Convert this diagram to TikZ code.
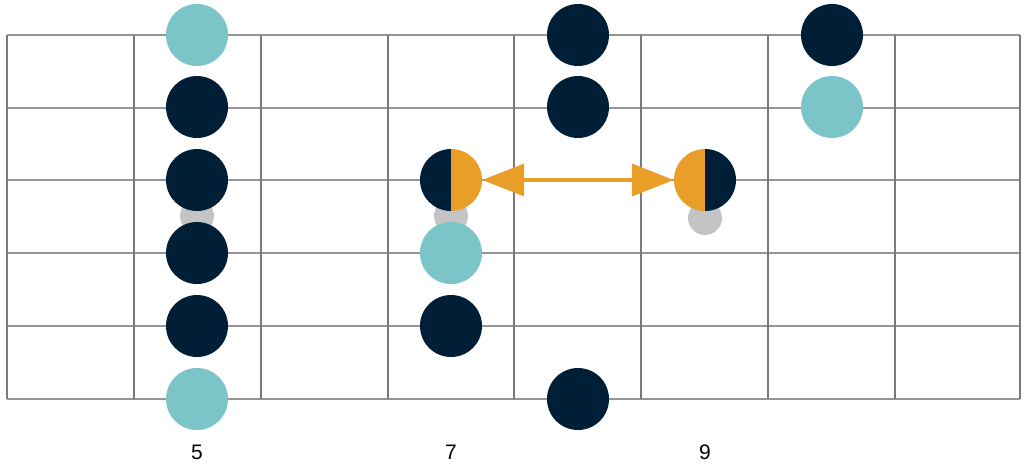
\documentclass[tikz,border=0pt]{standalone}
\usepackage{fontspec}
\setmainfont{Liberation Sans}
\usetikzlibrary{arrows.meta}
\definecolor{dk}{HTML}{001F36}
\definecolor{tl}{HTML}{7BC5C9}
\definecolor{og}{HTML}{E99E27}
\definecolor{gr}{HTML}{C4C4C4}
\definecolor{ln}{HTML}{7A7A7A}
\begin{document}
\begin{tikzpicture}[x=1pt,y=-1pt,
  dot/.style={circle,minimum size=62pt,inner sep=0pt},
  dkdot/.style={dot,fill=dk},
  tldot/.style={dot,fill=tl},
  ghost/.style={circle,fill=gr,minimum size=34pt,inner sep=0pt},
  fret/.style={draw=ln,line width=2.6pt},
  str/.style={draw=ln!80,line width=1.6pt},
  lab/.style={font=\fontsize{21}{21}\selectfont}]
\useasboundingbox (0,0) rectangle (1024,466);
\foreach \y in {35,108,180,253,326,399} \draw[str] (7,\y) -- (1020,\y);
\foreach \x in {7,134,261,388,514,641,768,895,1020} \draw[fret] (\x,35) -- (\x,399);
\node[ghost] (g1) at (197,216) {};
\node[ghost] (g2) at (451,216) {};
\node[ghost] (g3) at (705,218) {};
\node[tldot] (a1) at (197,35) {};
\node[dkdot] (a2) at (197,107) {};
\node[dkdot] (a3) at (197,180) {};
\node[dkdot] (a4) at (197,253) {};
\node[dkdot] (a5) at (197,326) {};
\node[tldot] (a6) at (197,399) {};
\node[dot] (h1) at (451,180) {};
\fill[dk] (451,149) arc[start angle=-90,end angle=-270,radius=31] -- cycle;
\fill[og] (451,149) arc[start angle=-90,end angle=90,radius=31] -- cycle;
\node[tldot] (b2) at (451,253) {};
\node[dkdot] (b3) at (451,326) {};
\node[dkdot] (c1) at (578,35) {};
\node[dkdot] (c2) at (578,107) {};
\node[dkdot] (c3) at (578,399) {};
\node[dot] (h2) at (705,180) {};
\fill[og] (705,149) arc[start angle=-90,end angle=-270,radius=31] -- cycle;
\fill[dk] (705,149) arc[start angle=-90,end angle=90,radius=31] -- cycle;
\node[dkdot] (d1) at (832,35) {};
\node[tldot] (d2) at (832,107) {};
\draw[og,line width=4pt,{Triangle[length=42pt,width=32pt]}-{Triangle[length=42pt,width=32pt]}] (h1.east) -- (h2.west);
\node[lab] (l5) at (197,452) {5};
\node[lab] (l7) at (451,452) {7};
\node[lab] (l9) at (705,452) {9};
\end{tikzpicture}
\end{document}
